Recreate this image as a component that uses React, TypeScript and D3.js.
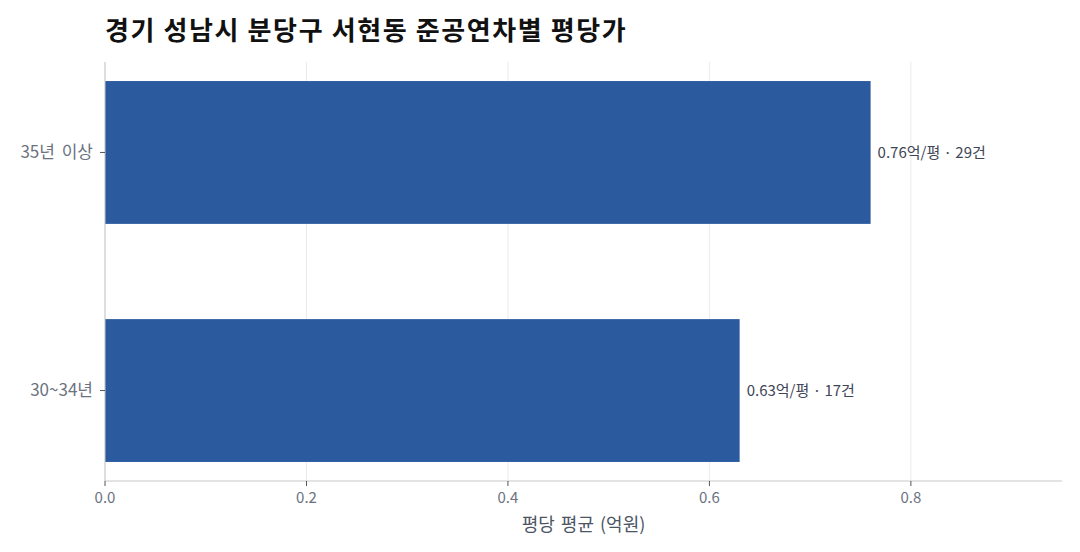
import React from 'react';
import * as d3 from 'd3';

const categories = ['35년 이상', '30~34년'];
const avgPrice = [0.76, 0.63];
const counts = [29, 17];
const xTicks = [0, 0.2, 0.4, 0.6, 0.8];

const W = 1080;
const H = 552;
const margin = { top: 62, right: 18, bottom: 71, left: 105 };
const FONT = "'Noto Sans CJK KR', 'Noto Sans', sans-serif";

const App: React.FC = () => {
  const innerW = W - margin.left - margin.right;
  const innerH = H - margin.top - margin.bottom;

  const x = d3.scaleLinear().domain([0, d3.max(avgPrice)! * 1.25]).range([0, innerW]);
  const y = d3.scaleBand<string>()
    .domain(categories)
    .range([0, innerH])
    .paddingInner(0.4)
    .paddingOuter(0.08);

  return (
    <svg width={W} height={H} style={{ display: 'block', margin: -8 }} fontFamily={FONT}>
      <rect width={W} height={H} fill="#fff" />
      <text x={105} y={40} fontSize={26} fontWeight={700} fill="#111" letterSpacing={1.6}>
        경기 성남시 분당구 서현동 준공연차별 평당가
      </text>
      <g transform={`translate(${margin.left},${margin.top})`}>
        {/* grid */}
        {xTicks.map((t) => (
          <line key={t} x1={x(t)} x2={x(t)} y1={0} y2={innerH} stroke="#ebebeb" strokeWidth={1} />
        ))}
        {/* bars */}
        {categories.map((c, i) => (
          <rect key={c} x={0} y={y(c)!} width={x(avgPrice[i])} height={y.bandwidth()} fill="#2b5a9e" />
        ))}
        {/* value labels */}
        {categories.map((c, i) => (
          <text
            key={c}
            x={x(avgPrice[i]) + 7}
            y={y(c)! + y.bandwidth() / 2}
            dy="0.35em"
            fontSize={15}
            fill="#3f4656"
          >
            {`${avgPrice[i].toFixed(2)}억/평 · ${counts[i]}건`}
          </text>
        ))}
        {/* axes */}
        <line x1={0} x2={0} y1={0} y2={innerH} stroke="#c8c8c8" />
        <line x1={0} x2={innerW} y1={innerH} y2={innerH} stroke="#c8c8c8" />
        {xTicks.map((t) => (
          <g key={t} transform={`translate(${x(t)},${innerH})`}>
            <line y1={0} y2={5} stroke="#555" />
            <text y={22} textAnchor="middle" fontSize={15} fill="#6b7280">
              {t.toFixed(1)}
            </text>
          </g>
        ))}
        {categories.map((c) => (
          <g key={c} transform={`translate(0,${y(c)! + y.bandwidth() / 2})`}>
            <line x1={-5} x2={0} stroke="#555" />
            <text x={-12} dy="0.35em" textAnchor="end" fontSize={17} fill="#6b7280" wordSpacing={3}>
              {c}
            </text>
          </g>
        ))}
        <text x={x(0.475)} y={innerH + 50} textAnchor="middle" fontSize={18} fill="#4b5563" wordSpacing={2}>
          평당 평균 (억원)
        </text>
      </g>
    </svg>
  );
};

export default App;
